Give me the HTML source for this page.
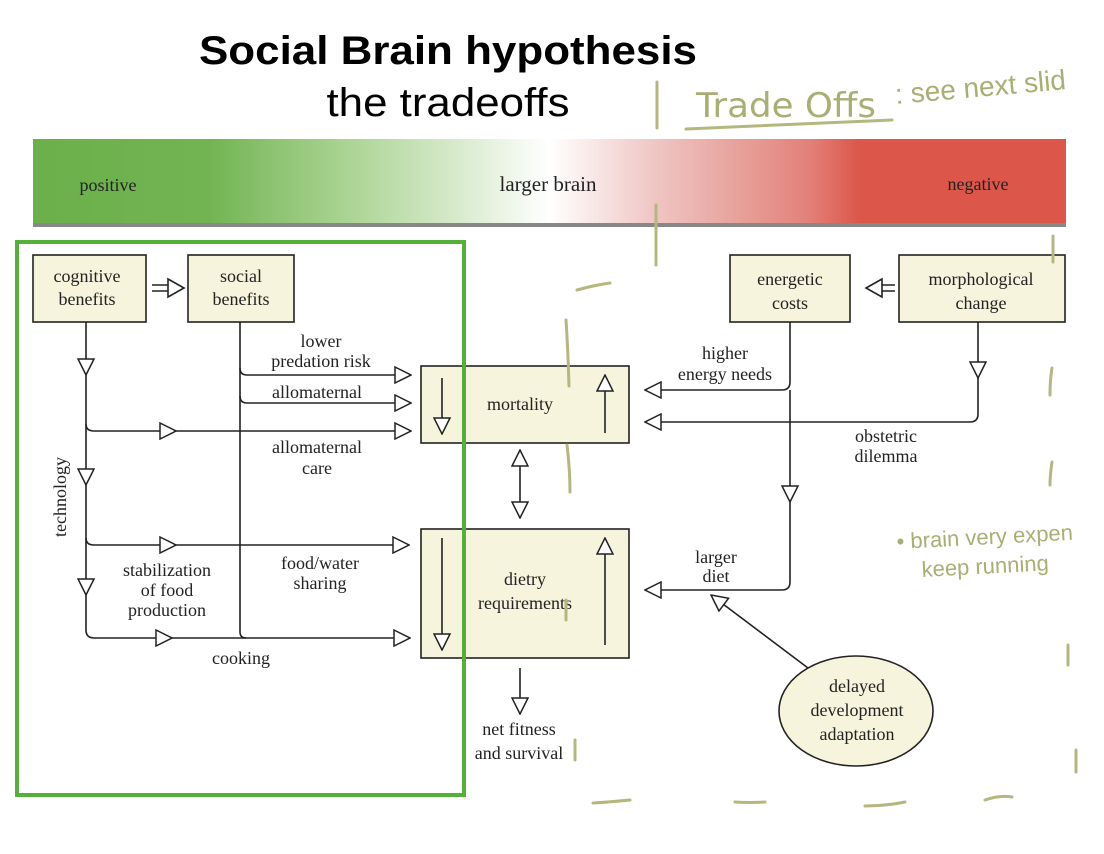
<!DOCTYPE html>
<html><head><meta charset="utf-8"><style>
html,body{margin:0;padding:0;background:#fff;}
svg{display:block;}
.t{font-family:"Liberation Serif",serif;font-size:18px;fill:#222;text-anchor:middle;}
.h{font-family:"Liberation Sans",sans-serif;fill:#a9ae72;}
</style></head><body>
<svg width="1104" height="854" viewBox="0 0 1104 854" xmlns="http://www.w3.org/2000/svg">
<defs>
<linearGradient id="g" x1="0" x2="1" y1="0" y2="0">
<stop offset="0" stop-color="#6bb04a"/>
<stop offset="0.17" stop-color="#72b453"/>
<stop offset="0.3" stop-color="#a9d391"/>
<stop offset="0.4" stop-color="#d3e8c6"/>
<stop offset="0.5" stop-color="#ffffff"/>
<stop offset="0.6" stop-color="#efc7c4"/>
<stop offset="0.75" stop-color="#e2827a"/>
<stop offset="0.8" stop-color="#dc564a"/>
<stop offset="1" stop-color="#dc5649"/>
</linearGradient>
<marker id="a" viewBox="0 0 18 18" refX="17" refY="9" markerWidth="18" markerHeight="18" markerUnits="userSpaceOnUse" orient="auto">
<path d="M1,1 L17,9 L1,17 Z" fill="#fff" stroke="#222" stroke-width="1.5"/>
</marker>
</defs>
<text x="448" y="64" font-family="Liberation Sans,sans-serif" font-weight="bold" font-size="40" text-anchor="middle" fill="#000" textLength="498" lengthAdjust="spacingAndGlyphs">Social Brain hypothesis</text>
<text x="448" y="116" font-family="Liberation Sans,sans-serif" font-size="40" text-anchor="middle" fill="#000" textLength="243" lengthAdjust="spacingAndGlyphs">the tradeoffs</text>

<rect x="33" y="139" width="1033" height="85" fill="url(#g)"/>
<rect x="33" y="223" width="1033" height="4" fill="#888"/>
<text class="t" x="108" y="191">positive</text>
<text class="t" x="548" y="191" style="font-size:21px">larger brain</text>
<text class="t" x="978" y="190">negative</text>

<g stroke="#222" stroke-width="1.6" fill="none">
<rect x="33" y="255" width="113" height="67" fill="#f6f4dc"/>
<rect x="188" y="255" width="106" height="67" fill="#f6f4dc"/>
<rect x="421" y="366" width="208" height="77" fill="#f6f4dc"/>
<rect x="421" y="529" width="208" height="129" fill="#f6f4dc"/>
<rect x="730" y="255" width="120" height="67" fill="#f6f4dc"/>
<rect x="899" y="255" width="166" height="67" fill="#f6f4dc"/>
<ellipse cx="856" cy="711" rx="77" ry="55" fill="#f6f4dc"/>

<path d="M152,285 H168 M152,291 H168"/>
<path d="M168,279 L184,288 L168,297 Z" fill="#fff"/>
<path d="M882,285 H895 M882,291 H895"/>
<path d="M882,279 L866,288 L882,297 Z" fill="#fff"/>

<path d="M86,322 V375" marker-end="url(#a)"/>
<path d="M86,375 V485" marker-end="url(#a)"/>
<path d="M86,485 V595" marker-end="url(#a)"/>
<path d="M86,595 V630 Q86,638 94,638 H172" marker-end="url(#a)"/>
<path d="M172,638 H410" marker-end="url(#a)"/>
<path d="M86,424 Q86,431 94,431 H176" marker-end="url(#a)"/>
<path d="M176,431 H411" marker-end="url(#a)"/>
<path d="M86,538 Q86,545 94,545 H176" marker-end="url(#a)"/>
<path d="M176,545 H409" marker-end="url(#a)"/>

<path d="M240,322 V632 Q240,638 246,638"/>
<path d="M240,368 Q240,375 247,375 H411" marker-end="url(#a)"/>
<path d="M240,396 Q240,403 247,403 H411" marker-end="url(#a)"/>

<path d="M442,378 V434" marker-end="url(#a)"/>
<path d="M605,433 V375" marker-end="url(#a)"/>
<path d="M442,538 V650" marker-end="url(#a)"/>
<path d="M605,645 V538" marker-end="url(#a)"/>
<path d="M520,482 V450" marker-end="url(#a)"/>
<path d="M520,482 V518" marker-end="url(#a)"/>
<path d="M520,668 V714" marker-end="url(#a)"/>

<path d="M790,322 V382 Q790,390 782,390 H645" marker-end="url(#a)"/>
<path d="M790,390 V502" marker-end="url(#a)"/>
<path d="M790,502 V582 Q790,590 782,590 H645" marker-end="url(#a)"/>
<path d="M978,322 V378" marker-end="url(#a)"/>
<path d="M978,378 V414 Q978,422 970,422 H645" marker-end="url(#a)"/>
<path d="M808,668 L711,595" marker-end="url(#a)"/>
</g>

<text class="t" x="87" y="282">cognitive</text>
<text class="t" x="87" y="305">benefits</text>
<text class="t" x="241" y="282">social</text>
<text class="t" x="241" y="305">benefits</text>
<text class="t" x="321" y="347">lower</text>
<text class="t" x="321" y="367">predation risk</text>
<text class="t" x="317" y="398">allomaternal</text>
<text class="t" x="317" y="453">allomaternal</text>
<text class="t" x="317" y="474">care</text>
<text class="t" x="66" y="497" transform="rotate(-90 66 497)">technology</text>
<text class="t" x="167" y="576">stabilization</text>
<text class="t" x="167" y="596">of food</text>
<text class="t" x="167" y="616">production</text>
<text class="t" x="320" y="569">food/water</text>
<text class="t" x="320" y="589">sharing</text>
<text class="t" x="241" y="664">cooking</text>
<text class="t" x="520" y="410">mortality</text>
<text class="t" x="525" y="585">dietry</text>
<text class="t" x="525" y="609">requirements</text>
<text class="t" x="519" y="735">net fitness</text>
<text class="t" x="519" y="759">and survival</text>
<text class="t" x="790" y="285">energetic</text>
<text class="t" x="790" y="309">costs</text>
<text class="t" x="981" y="285">morphological</text>
<text class="t" x="981" y="309">change</text>
<text class="t" x="725" y="359">higher</text>
<text class="t" x="725" y="380">energy needs</text>
<text class="t" x="886" y="442">obstetric</text>
<text class="t" x="886" y="462">dilemma</text>
<text class="t" x="716" y="563">larger</text>
<text class="t" x="716" y="582">diet</text>
<text class="t" x="857" y="692">delayed</text>
<text class="t" x="857" y="716">development</text>
<text class="t" x="857" y="740">adaptation</text>

<rect x="17" y="242" width="447" height="553" fill="none" stroke="#55b03a" stroke-width="4"/>

<g stroke="#b4b77e" stroke-width="3" fill="none" stroke-linecap="round">
<path d="M657,82 V128"/>
<path d="M686,129 Q790,124 892,120"/>
<path d="M656,205 V265"/>
<path d="M577,290 Q595,285 610,283"/>
<path d="M566,320 Q568,350 569,386"/>
<path d="M567,445 Q570,470 570,492"/>
<path d="M1053,236 V262"/>
<path d="M1052,368 Q1050,380 1050,395"/>
<path d="M1052,462 Q1050,475 1050,485"/>
<path d="M1068,645 V665"/>
<path d="M1076,750 V772"/>
<path d="M575,740 V760"/>
<path d="M593,803 Q610,802 630,800"/>
<path d="M735,802 Q750,803 765,802"/>
<path d="M865,806 Q885,806 905,802"/>
<path d="M985,800 Q1000,795 1012,797"/>
<path d="M566,600 V620"/>
</g>
<text class="h" x="696" y="117" font-size="34" style="font-family:'DejaVu Sans',sans-serif" textLength="180" lengthAdjust="spacingAndGlyphs">Trade Offs</text>
<text class="h" x="896" y="104" font-size="28" transform="rotate(-5 896 104)">: see next slid</text>
<text class="h" x="897" y="549" font-size="22" transform="rotate(-3 897 549)">• brain very expen</text>
<text class="h" x="922" y="577" font-size="22" transform="rotate(-3 922 577)">keep running</text>
</svg>
</body></html>
